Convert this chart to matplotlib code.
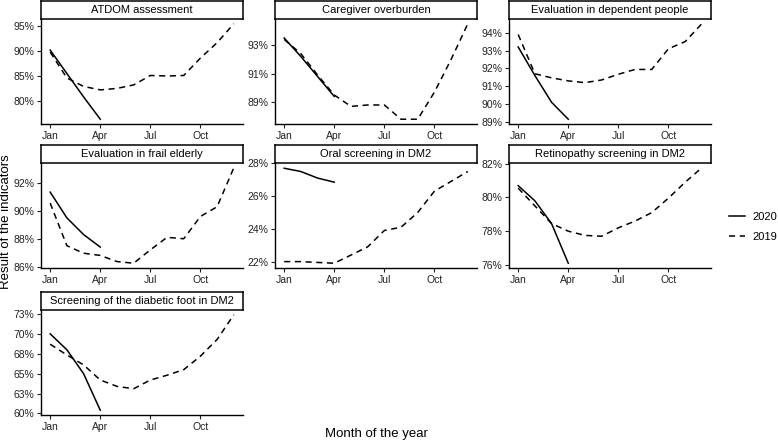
import matplotlib
matplotlib.use('Agg')
from matplotlib import pyplot as plt
from matplotlib.lines import Line2D

plt.rcParams['font.family'] = ['Liberation Sans', 'DejaVu Sans']

# months 1..12
months = list(range(1, 13))
month_ticks = [1, 4, 7, 10]
month_labels = ['Jan', 'Apr', 'Jul', 'Oct']

titles = ['ATDOM assessment', 'Caregiver overburden', 'Evaluation in dependent people',
          'Evaluation in frail elderly', 'Oral screening in DM2', 'Retinopathy screening in DM2',
          'Screening of the diabetic foot in DM2']

# 2020 values (Jan-Apr), percent
y2020 = [
    [90.2, 85.5, 80.8, 76.3],
    [93.5, 92.2, 90.8, 89.4],
    [93.2, 91.6, 90.1, 89.15],
    [91.35, 89.5, 88.3, 87.4],
    [27.7, 27.5, 27.1, 26.85],
    [80.7, 79.8, 78.45, 76.1],
    [70.0, 68.0, 65.0, 60.4],
]

# 2019 values (Jan-Dec), percent
y2019 = [
    [89.8, 84.6, 82.9, 82.2, 82.5, 83.2, 85.1, 85.0, 85.1, 88.6, 91.7, 95.5],
    [93.4, 92.4, 90.9, 89.5, 88.7, 88.8, 88.8, 87.8, 87.8, 89.7, 92.0, 94.5],
    [93.9, 91.7, 91.47, 91.3, 91.2, 91.35, 91.67, 91.94, 91.94, 93.1, 93.5, 94.5],
    [90.56, 87.5, 86.96, 86.8, 86.36, 86.24, 87.2, 88.1, 88.0, 89.6, 90.3, 93.1],
    [22.0, 22.0, 21.95, 21.9, 22.4, 22.9, 23.9, 24.1, 25.0, 26.3, 26.9, 27.5],
    [80.55, 79.5, 78.45, 78.0, 77.75, 77.7, 78.2, 78.6, 79.1, 79.96, 80.9, 81.76],
    [68.7, 67.35, 66.1, 64.2, 63.4, 63.1, 64.2, 64.8, 65.5, 67.2, 69.3, 72.4],
]

y_ticks = [
    [80, 85, 90, 95],
    [89, 91, 93],
    [89, 90, 91, 92, 93, 94],
    [86, 88, 90, 92],
    [22, 24, 26, 28],
    [76, 78, 80, 82],
    [60, 62.5, 65, 67.5, 70, 72.5],
]
y_labels = [
    ['80%', '85%', '90%', '95%'],
    ['89%', '91%', '93%'],
    ['89%', '90%', '91%', '92%', '93%', '94%'],
    ['86%', '88%', '90%', '92%'],
    ['22%', '24%', '26%', '28%'],
    ['76%', '78%', '80%', '82%'],
    ['60%', '63%', '65%', '68%', '70%', '73%'],
]

W, H = 778, 446
fig = plt.figure(figsize=(W / 100, H / 100), dpi=100)

col_left = [41, 275, 509]
panel_w = 202
row_top = [19, 163, 310]
panel_h = 105
strip_h = 18
txt = '#222222'

for i, title in enumerate(titles):
    r, c = divmod(i, 3)
    x0 = col_left[c]
    top = row_top[r]
    ax = fig.add_axes([x0 / W, 1 - (top + panel_h) / H, panel_w / W, panel_h / H])
    ax.plot(months[:4], y2020[i], color='black', lw=1.1)
    ax.plot(months, y2019[i], color='black', lw=1.1, dashes=(4, 3))
    vals = y2020[i] + y2019[i]
    lo, hi = min(vals), max(vals)
    pad = 0.05 * (hi - lo)
    ax.set_ylim(min(lo - pad, y_ticks[i][0] - 0.02), max(hi + pad, y_ticks[i][-1] + 0.02))
    ax.set_xlim(0.45, 12.55)
    ax.set_xticks(month_ticks)
    ax.set_xticklabels(month_labels)
    ax.set_yticks(y_ticks[i])
    ax.set_yticklabels(y_labels[i])
    for s in ['top', 'right']:
        ax.spines[s].set_visible(False)
    for s in ['left', 'bottom']:
        ax.spines[s].set_linewidth(1.0)
    ax.tick_params(length=3, width=0.8, labelsize=7.5, colors=txt, pad=2)
    # strip
    sax = fig.add_axes([x0 / W, 1 - top / H, panel_w / W, strip_h / H])
    sax.set_xticks([])
    sax.set_yticks([])
    for s in sax.spines.values():
        s.set_linewidth(1.1)
    sax.text(0.5, 0.5, title, ha='center', va='center', fontsize=8, color='black',
             transform=sax.transAxes)

fig.text(376 / W, 1 - 434 / H, 'Month of the year', ha='center', va='center', fontsize=9.5)
fig.text(6 / W, 1 - 222 / H, 'Result of the indicators', ha='center', va='center',
         rotation=90, fontsize=9.5)

handles = [Line2D([], [], color='black', lw=1.1),
           Line2D([], [], color='black', lw=1.1, dashes=(4, 3))]
fig.legend(handles, ['2020', '2019'], loc='center left', bbox_to_anchor=(729 / W, 1 - 227 / H),
           frameon=False, fontsize=8, handlelength=1.4, handletextpad=0.7, labelspacing=0.9,
           borderpad=0, borderaxespad=0)

fig.savefig('out.png', dpi=100)
